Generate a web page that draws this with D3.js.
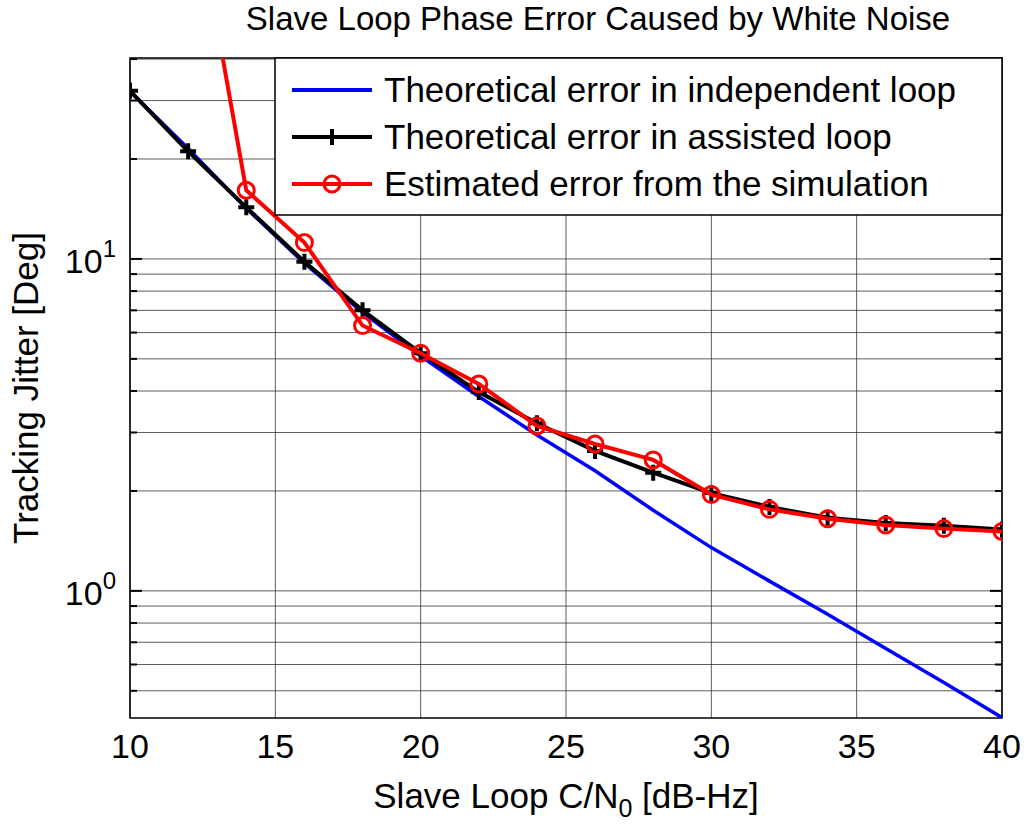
<!DOCTYPE html><html><head><script src="https://cdn.jsdelivr.net/npm/d3@7"></script>
<style>body{margin:0;background:#fff}text{font-family:"Liberation Sans",Arial,sans-serif}</style></head><body>
<svg id="c" width="1024" height="832"></svg>
<script>
const cn0 = [10,12,14,16,18,20,22,24,26,28,30,32,34,36,38,40];
const independent = [32,21.5,14.2,9.7,6.9,5.1,3.85,2.95,2.3,1.75,1.35,1.07,0.85,0.67,0.53,0.415];
const assisted = [32.1,21.1,14.3,9.8,7.0,5.2,3.97,3.2,2.64,2.27,1.97,1.79,1.66,1.60,1.57,1.53];
const simulated = [155,16.1,11.2,6.3,5.2,4.2,3.14,2.77,2.48,1.95,1.76,1.65,1.58,1.54,1.51];
const simX = [12,14,16,18,20,22,24,26,28,30,32,34,36,38,40];
const xTicks = [10,15,20,25,30,35,40];
const svg = d3.select("#c");
const L=130,R=1002,T=58,B=718;
const x = d3.scaleLinear().domain([10,40]).range([L,R]);
const y = d3.scaleLog().domain([0.414,40.3]).range([B,T]);
svg.append("defs").append("clipPath").attr("id","cp").append("rect").attr("x",L).attr("y",T).attr("width",R-L).attr("height",B-T);
const g = svg.append("g");
xTicks.forEach(t=>g.append("line").attr("x1",x(t)).attr("x2",x(t)).attr("y1",T).attr("y2",B).attr("stroke","#333").attr("stroke-width",0.8));
const yg=[];[0.1,1,10].forEach(d=>{for(let k=1;k<10;k++){const v=d*k;if(v>=0.414&&v<=40.3)yg.push(v);}});
yg.forEach(v=>{g.append("line").attr("x1",L).attr("x2",R).attr("y1",y(v)).attr("y2",y(v)).attr("stroke","#333").attr("stroke-width",0.8);
 const big=(v===1||v===10)?12:7;
 g.append("line").attr("x1",L).attr("x2",L+big).attr("y1",y(v)).attr("y2",y(v)).attr("stroke","#000").attr("stroke-width",2);
 g.append("line").attr("x1",R-big).attr("x2",R).attr("y1",y(v)).attr("y2",y(v)).attr("stroke","#000").attr("stroke-width",2);});
g.append("rect").attr("x",L).attr("y",T).attr("width",R-L).attr("height",B-T).attr("fill","none").attr("stroke","#000").attr("stroke-width",1.5);
xTicks.forEach(t=>svg.append("text").attr("x",x(t)).attr("y",758).attr("text-anchor","middle").attr("font-size",34).text(t));
[[1,"0"],[10,"1"]].forEach(([v,e])=>{const t=svg.append("text").attr("x",116).attr("y",y(v)+14).attr("text-anchor","end").attr("font-size",34);
 t.append("tspan").text("10");t.append("tspan").attr("dy",-16).attr("font-size",24).text(e);});
svg.append("text").attr("x",566).attr("y",808).attr("text-anchor","middle").attr("font-size",35).html('Slave Loop C/N<tspan dy="9" font-size="25">0</tspan><tspan dy="-9"> [dB-Hz]</tspan>');
svg.append("text").attr("transform","translate(38,388) rotate(-90)").attr("text-anchor","middle").attr("font-size",35).text("Tracking Jitter [Deg]");
svg.append("text").attr("x",598).attr("y",30).attr("text-anchor","middle").attr("font-size",33).text("Slave Loop Phase Error Caused by White Noise");
const pg=svg.append("g").attr("clip-path","url(#cp)");
const line=d3.line().x(d=>x(d[0])).y(d=>y(d[1]));
pg.append("path").attr("d",line(cn0.map((c,i)=>[c,independent[i]]))).attr("fill","none").attr("stroke","#0000ff").attr("stroke-width",3.5);
const ad=cn0.map((c,i)=>[c,assisted[i]]);
pg.append("path").attr("d",line(ad)).attr("fill","none").attr("stroke","#000").attr("stroke-width",4);
ad.forEach(d=>{pg.append("path").attr("d",`M${x(d[0])-8},${y(d[1])}H${x(d[0])+8}M${x(d[0])},${y(d[1])-8}V${y(d[1])+8}`).attr("stroke","#000").attr("stroke-width",4);});
const sd=simX.map((c,i)=>[c,simulated[i]]);
pg.append("path").attr("d",line(sd)).attr("fill","none").attr("stroke","#ff0000").attr("stroke-width",4);
sd.forEach(d=>pg.append("circle").attr("cx",x(d[0])).attr("cy",y(d[1])).attr("r",8).attr("fill","none").attr("stroke","#ff0000").attr("stroke-width",3));
const lg=svg.append("g");
lg.append("rect").attr("x",275).attr("y",58).attr("width",727).attr("height",157).attr("fill","#fff").attr("stroke","#000").attr("stroke-width",1.5);
const items=[["Theoretical error in independent loop","#0000ff","none"],["Theoretical error in assisted loop","#000","plus"],["Estimated error from the simulation","#ff0000","circle"]];
items.forEach((it,i)=>{const yy=90+i*47;
 lg.append("line").attr("x1",292).attr("x2",372).attr("y1",yy).attr("y2",yy).attr("stroke",it[1]).attr("stroke-width",4);
 if(it[2]==="plus")lg.append("path").attr("d",`M324,${yy}H340M332,${yy-8}V${yy+8}`).attr("stroke","#000").attr("stroke-width",4);
 if(it[2]==="circle")lg.append("circle").attr("cx",332).attr("cy",yy).attr("r",8).attr("fill","none").attr("stroke","#ff0000").attr("stroke-width",3);
 lg.append("text").attr("x",384).attr("y",yy+12).attr("font-size",35).text(it[0]);});
</script></body></html>
